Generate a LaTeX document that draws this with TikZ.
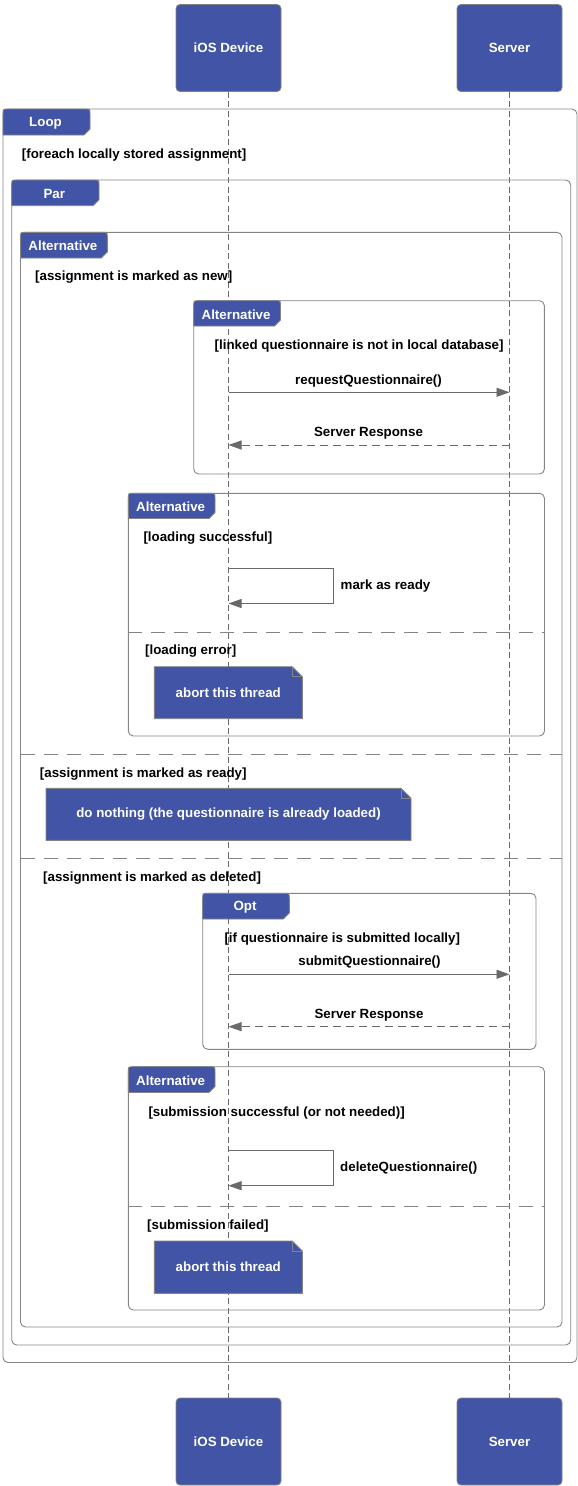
\documentclass[tikz,border=0pt]{standalone}
\usepackage{fontspec}
\setmainfont{Liberation Sans}
\usetikzlibrary{arrows.meta}

\definecolor{ublue}{RGB}{66,84,165}
\definecolor{edgegray}{RGB}{132,132,132}
\definecolor{linegray}{RGB}{105,105,105}

\newcommand\lab{\fontsize{13.33}{16}\selectfont\bfseries}

\tikzset{
  actor/.style={draw=edgegray, fill=ublue, rounded corners=4pt, minimum width=105pt,
    minimum height=87pt, text=white, font=\lab, line width=0.8pt, inner sep=0pt},
  lifeline/.style={draw=linegray, dash pattern=on 6pt off 3.5pt, line width=0.9pt},
  frame/.style={draw=edgegray, rounded corners=5pt, line width=0.9pt},
  tab/.style={fill=ublue, draw=edgegray, line width=0.9pt},
  tablabel/.style={text=white, font=\lab, inner sep=0pt, yshift=-1pt},
  guard/.style={anchor=west, inner sep=0pt, font=\lab, yshift=-1.5pt},
  msglabel/.style={inner sep=0pt, font=\lab, yshift=-1.5pt},
  msg/.style={draw=linegray, line width=0.9pt, -{Triangle[length=13pt,width=9pt]}},
  reply/.style={msg, dash pattern=on 8pt off 5pt},
  divider/.style={draw=edgegray, line width=0.9pt, dash pattern=on 14pt off 9pt},
  notefill/.style={fill=ublue, draw=edgegray, line width=0.9pt},
  notefold/.style={draw=edgegray, line width=0.8pt},
  notetext/.style={text=white, font=\lab, inner sep=0pt},
}

% combined-fragment tab: x0 y0 x1 y1 label
\newcommand\fragtab[5]{%
  \path[tab] (#1,#4) -- (#1,#2+5) .. controls (#1,#2) .. (#1+5,#2)
    -- (#3-5,#2) .. controls (#3,#2) .. (#3,#2+5) -- (#3,#4-6) -- (#3-6,#4) -- cycle;
  \node[tablabel] at ({(#1+#3)/2-1},{(#2+#4)/2}) {#5};}

% note with a folded corner: x0 y0 x1 y1 name text
\newcommand\stickynote[6]{%
  \path[notefill] (#1,#2) -- (#3-10,#2) -- (#3,#2+10) -- (#3,#4) -- (#1,#4) -- cycle;
  \path[notefold] (#3-10,#2) -- (#3-10,#2+10) -- (#3,#2+10);
  \node[notetext] (#5) at ({(#1+#3)/2},{(#2+#4)/2}) {#6};}

\begin{document}
\begin{tikzpicture}[x=1pt, y=-1pt]
\useasboundingbox (0,0) rectangle (578,1486);

% participants
\node[actor] (iosTop) at (228.5,48) {iOS Device};
\node[actor] (srvTop) at (509.5,48) {Server};
\node[actor] (iosBot) at (228.5,1441.5) {iOS Device};
\node[actor] (srvBot) at (509.5,1441.5) {Server};

% lifelines
\draw[lifeline] (iosTop.south) -- (iosBot.north);
\draw[lifeline] (srvTop.south) -- (srvBot.north);

% combined fragments
\draw[frame] (3,109) rectangle (577,1362.5);
\draw[frame] (11.7,180) rectangle (570.7,1345);
\draw[frame] (20.5,232.3) rectangle (562,1327);
\draw[frame] (193.7,300.7) rectangle (544.4,474);
\draw[frame] (128.3,493.3) rectangle (544.5,736);
\draw[frame] (202.7,893.3) rectangle (536,1049.3);
\draw[frame] (128.3,1066.7) rectangle (544.5,1310);

% operand separators
\draw[divider] (128.3,632) -- (544.5,632);
\draw[divider] (20.5,754) -- (562,754);
\draw[divider] (20.5,858) -- (562,858);
\draw[divider] (128.3,1206) -- (544.5,1206);

% fragment tabs
\fragtab{3}{109}{90}{135}{Loop}
\fragtab{11.7}{180}{99}{205.7}{Par}
\fragtab{20.5}{232.3}{107.3}{258}{Alternative}
\fragtab{193.7}{300.7}{280.5}{326}{Alternative}
\fragtab{128.3}{493.3}{215}{518.5}{Alternative}
\fragtab{202.7}{893.3}{289.3}{919}{Opt}
\fragtab{128.3}{1066.7}{215}{1092.5}{Alternative}

% guards
\node[guard] (g1) at (21.7,154) {[foreach locally stored assignment]};
\node[guard] (g2) at (35,275.5) {[assignment is marked as new]};
\node[guard] (g3) at (214.5,345) {[linked questionnaire is not in local database]};
\node[guard] (g4) at (143.3,537) {[loading successful]};
\node[guard] (g5) at (145,650) {[loading error]};
\node[guard] (g6) at (39.7,772.3) {[assignment is marked as ready]};
\node[guard] (g7) at (43,876.3) {[assignment is marked as deleted]};
\node[guard] (g8) at (224.3,937.5) {[if questionnaire is submitted locally]};
\node[guard] (g9) at (148.3,1111.5) {[submission successful (or not needed)]};
\node[guard] (g10) at (147,1224.3) {[submission failed]};

% notes
\stickynote{154.3}{666.7}{302.3}{718.7}{abortA}{abort this thread}
\stickynote{46}{788.3}{411}{840.3}{nothing}{do nothing (the questionnaire is already loaded)}
\stickynote{154.3}{1241}{302.3}{1293.3}{abortB}{abort this thread}

% message end points on the lifelines
\coordinate (rqA) at (228.5,392.3);
\coordinate (rqB) at (509.5,392.3);
\coordinate (rsA) at (228.5,445);
\coordinate (rsB) at (509.5,445);
\coordinate (mrA) at (228.5,568);
\coordinate (mrB) at (228.5,603.5);
\coordinate (sqA) at (228.5,974.3);
\coordinate (sqB) at (509.5,974.3);
\coordinate (srA) at (228.5,1026.7);
\coordinate (srB) at (509.5,1026.7);
\coordinate (dqA) at (228.5,1150.3);
\coordinate (dqB) at (228.5,1185.7);

% messages
\draw[msg] (rqA) -- (rqB);
\node[msglabel] (l1) at (368.5,380) {requestQuestionnaire()};
\draw[reply] (rsB) -- (rsA);
\node[msglabel] (l2) at (368.5,431.7) {Server Response};

\draw[msg] (mrA) -- ++(104.5,0) |- (mrB);
\node[guard] (l3) at (340.5,585) {mark as ready};

\draw[msg] (sqA) -- (sqB);
\node[msglabel] (l4) at (369.5,961) {submitQuestionnaire()};
\draw[reply] (srB) -- (srA);
\node[msglabel] (l5) at (369,1014) {Server Response};

\draw[msg] (dqA) -- ++(104.5,0) |- (dqB);
\node[guard] (l6) at (340,1166.5) {deleteQuestionnaire()};
\end{tikzpicture}
\end{document}
